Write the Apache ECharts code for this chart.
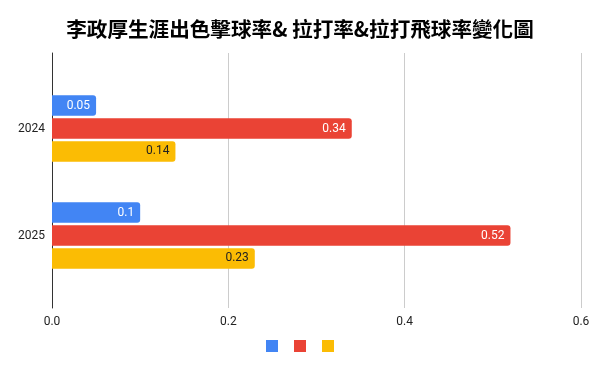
<!DOCTYPE html>
<html>
<head>
<meta charset="utf-8">
<script src="https://cdn.jsdelivr.net/npm/echarts@6/dist/echarts.min.js"></script>
<style>html,body{margin:0;padding:0;background:#fff;}#c{width:600px;height:371px;}</style>
</head>
<body>
<div id="c"></div>
<script>
const titleText = '李政厚生涯出色擊球率& 拉打率&拉打飛球率變化圖';
const categories = ['2024', '2025'];
const seriesNames = ['出色擊球率', '拉打率', '拉打飛球率'];
const barrelRate = [0.05, 0.1];
const pullRate = [0.34, 0.52];
const pullAirRate = [0.14, 0.23];
const xTicks = [0, 0.2, 0.4, 0.6];

const colors = ['#4285F4', '#EA4335', '#FBBC04'];
const labelColors = ['#ffffff', '#ffffff', '#222222'];
const values = [barrelRate, pullRate, pullAirRate];

const chart = echarts.init(document.getElementById('c'), null, {renderer: 'canvas'});
const font = 'Roboto, "Noto Sans", sans-serif';

chart.setOption({
  animation: false,
  color: colors,
  title: {
    text: titleText, left: 'center', top: 14,
    textStyle: {fontFamily: '"Noto Sans CJK TC", "Noto Sans CJK SC", sans-serif', fontWeight: 'bold', fontSize: 20.6, color: '#000'}
  },
  legend: {
    bottom: 14, left: 'center', itemWidth: 12, itemHeight: 12, itemGap: 16,
    icon: 'rect', formatter: () => '', data: seriesNames,
    textStyle: {fontSize: 12}
  },
  grid: [
    {left: 52, right: 19, top: 53, bottom: 63},
    {left: 52, right: 19, top: 75, bottom: 82}
  ],
  xAxis: [
    {gridIndex: 0, type: 'value', min: xTicks[0], max: xTicks[xTicks.length - 1], interval: 0.2,
     axisLine: {show: false}, axisTick: {show: false},
     axisLabel: {margin: 8, color: '#222', fontFamily: font, fontSize: 12, formatter: v => v.toFixed(1)},
     splitLine: {show: true, lineStyle: {color: '#cccccc', width: 1}}},
    {gridIndex: 1, type: 'value', min: xTicks[0], max: xTicks[xTicks.length - 1], interval: 0.2,
     show: false, splitLine: {show: false}}
  ],
  yAxis: [
    {gridIndex: 0, type: 'category', data: [''],
     axisLine: {show: true, lineStyle: {color: '#333', width: 1}},
     axisTick: {show: false}, axisLabel: {show: false}, splitLine: {show: false}},
    {gridIndex: 1, type: 'category', data: categories, inverse: true,
     axisLine: {show: false}, axisTick: {show: false},
     axisLabel: {margin: 7, color: '#222', fontFamily: font, fontSize: 12}}
  ],
  series: seriesNames.map((name, i) => ({
    name: name, type: 'bar', xAxisIndex: 1, yAxisIndex: 1,
    data: values[i], barGap: '12%', barCategoryGap: '38%',
    itemStyle: {color: colors[i], borderRadius: [0, 3, 3, 0]},
    label: {show: true, position: 'insideRight', distance: 6, color: labelColors[i], fontFamily: font, fontSize: 12,
            formatter: p => String(p.value)}
  }))
});
</script>
</body>
</html>
